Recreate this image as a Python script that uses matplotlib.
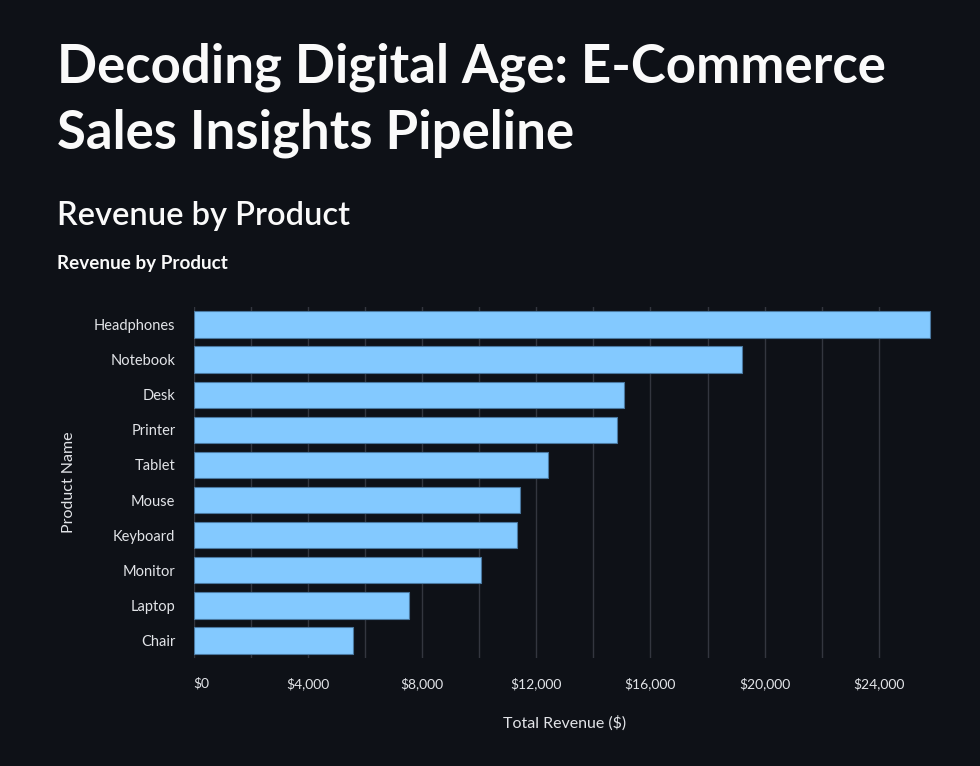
import matplotlib
matplotlib.use("Agg")
import matplotlib.pyplot as plt
from matplotlib.ticker import FuncFormatter, FixedLocator

products = ["Headphones", "Notebook", "Desk", "Printer", "Tablet",
            "Mouse", "Keyboard", "Monitor", "Laptop", "Chair"]
revenue = [25790, 19190, 15070, 14840, 12420, 11440, 11340, 10070, 7560, 5570]

bg = "#0e1117"
W, H = 980, 766

plt.rcParams["font.family"] = ["Lato", "DejaVu Sans"]

fig = plt.figure(figsize=(W / 100, H / 100), dpi=100, facecolor=bg)

def fx(px):
    return px / W

def fy(py):
    return 1 - py / H

# page headers
fig.text(fx(57), fy(82), "Decoding Digital Age: E-Commerce", color="#fafafa",
         fontsize=38, fontweight="bold", va="baseline")
fig.text(fx(57), fy(148), "Sales Insights Pipeline", color="#fafafa",
         fontsize=38, fontweight="bold", va="baseline")
fig.text(fx(57), fy(225), "Revenue by Product", color="#fafafa",
         fontsize=23.5, fontweight="semibold", va="baseline")
fig.text(fx(57), fy(269), "Revenue by Product", color="#fafafa",
         fontsize=13.6, fontweight="bold", va="baseline")

left, right, top, bottom = 193.5, 936, 307, 658
ax = fig.add_axes([fx(left), fy(bottom), fx(right - left), (bottom - top) / H])
ax.set_facecolor(bg)

ypos = list(range(len(products)))
ax.barh(ypos, revenue, height=0.75, color="#83c9ff", edgecolor="#4a78a0",
        linewidth=0.8, zorder=3)

ax.set_xlim(0, 26000)
ax.set_ylim(len(products) - 0.5, -0.5)
ax.set_yticks(ypos)
ax.set_yticklabels(products)

ax.xaxis.set_major_locator(FixedLocator(list(range(0, 24001, 4000))))
ax.xaxis.set_minor_locator(FixedLocator(list(range(2000, 24001, 4000))))
ax.xaxis.set_major_formatter(FuncFormatter(lambda v, p: f"${v:,.0f}"))
ax.grid(axis="x", which="both", color="#33363f", linewidth=1, zorder=0)

for s in ax.spines.values():
    s.set_visible(False)

ax.tick_params(axis="x", which="both", length=0, pad=14, labelsize=10, labelcolor="#e2e4e8")
ax.tick_params(axis="y", length=0, pad=13, labelsize=10.5, labelcolor="#e2e4e8")

# first label flush-left like vega
fig.canvas.draw()
ax.get_xticklabels()[0].set_horizontalalignment("left")

ax.set_xlabel("Total Revenue ($)", color="#e2e4e8", fontsize=11.5, labelpad=18)
ax.set_ylabel("Product Name", color="#e2e4e8", fontsize=11.5, labelpad=13)

fig.savefig("out.png", dpi=100, facecolor=bg)
